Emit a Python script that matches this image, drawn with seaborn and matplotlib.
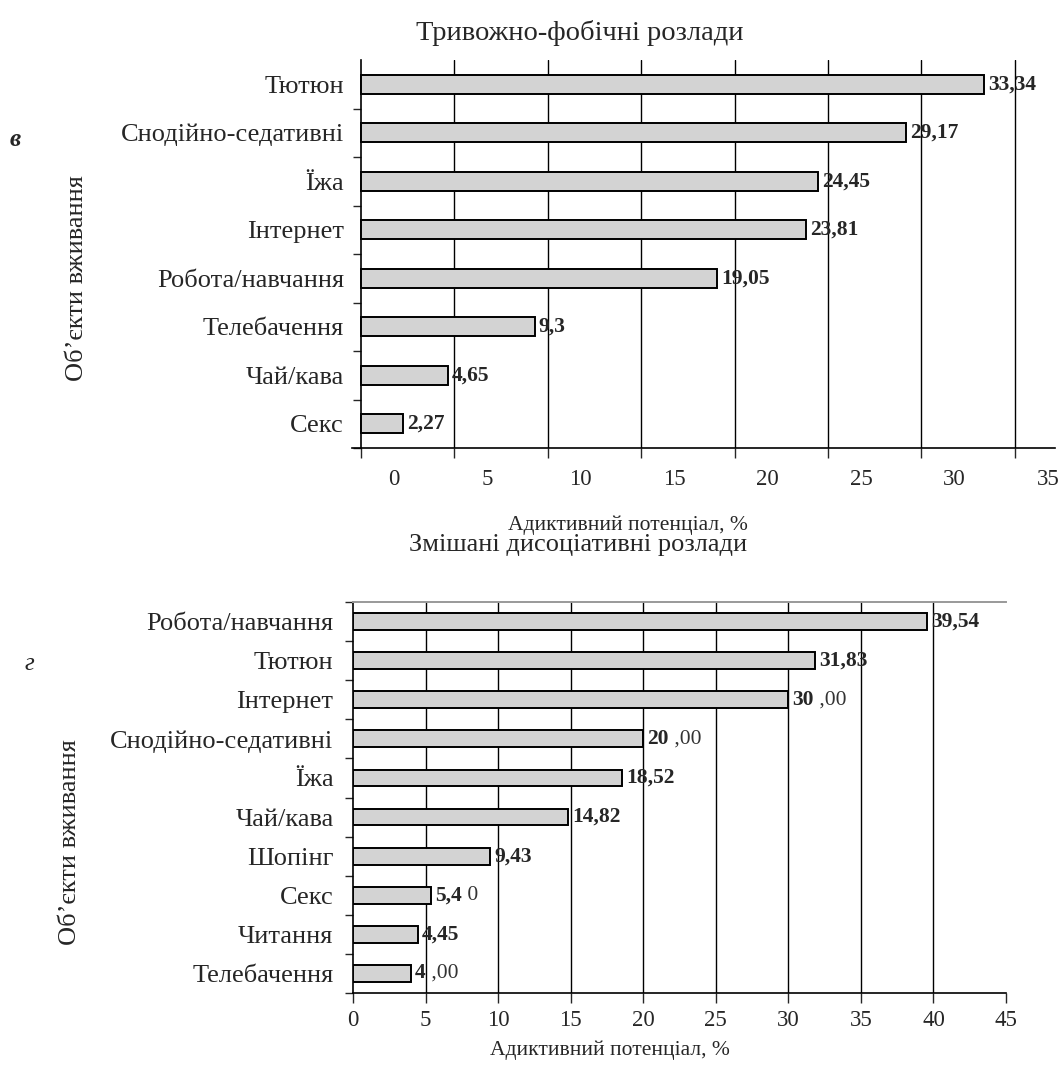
import matplotlib
matplotlib.use("Agg")
import matplotlib.pyplot as plt
import matplotlib.transforms as mtransforms
import numpy as np
import pandas as pd
import seaborn as sns

# top panel (в)
top_title = "Тривожно-фобічні розлади"
top_cats = ["Тютюн", "Снодійно-седативні", "Їжа", "Інтернет",
            "Робота/навчання", "Телебачення", "Чай/кава", "Секс"]
top_vals = [33.34, 29.17, 24.45, 23.81, 19.05, 9.3, 4.65, 2.27]
top_labels = ["33,34", "29,17", "24,45", "23,81", "19,05", "9,3", "4,65", "2,27"]
top_ticks = [0, 5, 10, 15, 20, 25, 30, 35]

# bottom panel (г)
bot_title = "Змішані дисоціативні розлади"
bot_cats = ["Робота/навчання", "Тютюн", "Інтернет", "Снодійно-седативні", "Їжа",
            "Чай/кава", "Шопінг", "Секс", "Читання", "Телебачення"]
bot_vals = [39.54, 31.83, 30.0, 20.0, 18.52, 14.82, 9.43, 5.4, 4.45, 4.0]
bot_bold = ["39,54", "31,83", "30", "20", "18,52", "14,82", "9,43", "5,4", "4,45", "4"]
bot_rest = ["", "", " ,00", " ,00", "", "", "", " 0", "", " ,00"]
bot_ticks = [0, 5, 10, 15, 20, 25, 30, 35, 40, 45]

xlabel = "Адиктивний потенціал, %"
ylabel = "Об’єкти вживання"

sns.set_style("white")
plt.rcParams["font.family"] = ["Liberation Serif", "DejaVu Serif"]

W, H = 1061, 1073
fig = plt.figure(figsize=(W / 100, H / 100), dpi=100)


def px_axes(left, top, right, bottom):
    return fig.add_axes([left / W, 1 - bottom / H, (right - left) / W, (bottom - top) / H])


def draw_panel(ax, cats, vals, bar_w, xlim, ticks, grid_ticks, top_tick=True):
    df = pd.DataFrame({"cat": cats, "val": vals})
    sns.barplot(data=df, x="val", y="cat", orient="h", order=cats, color="#d3d3d3",
                saturation=1, edgecolor="black", linewidth=1.4, width=bar_w, ax=ax)
    ax.set_xlim(*xlim)
    ax.set_ylim(len(cats) - 0.5, -0.5)
    ax.set_xlabel("")
    ax.set_ylabel("")
    for g in grid_ticks:
        ax.axvline(g, color="black", lw=1.0, zorder=0)
    ax.set_xticks(ticks)
    bounds = np.arange(len(cats) + 1) - 0.5
    if not top_tick:
        bounds = bounds[1:]
    ax.set_yticks(bounds, minor=True)
    ax.tick_params(axis="y", which="minor", length=6, width=1, direction="out", left=True)
    ax.tick_params(axis="y", which="major", length=0, labelsize=19, pad=12)
    ax.tick_params(axis="x", length=7, width=1, direction="out", bottom=True, labelsize=16.5)
    ax.spines["right"].set_visible(False)
    for s in ["left", "bottom"]:
        ax.spines[s].set_color("black")
        ax.spines[s].set_linewidth(1.2)
    for p in ax.patches:
        p.set_zorder(3)


# ---- top ----
ax1 = px_axes(352, 60, 1055, 448)
draw_panel(ax1, top_cats, top_vals, 0.39, (-0.47, 37.15), top_ticks, top_ticks[1:],
           top_tick=False)
ax1.spines["top"].set_visible(False)
ax1.spines["left"].set_position(("data", 0))
ax1.tick_params(axis="x", pad=8)
# the source figure has its x tick labels shifted right of the gridlines
shift = mtransforms.ScaledTranslation(0.33, 0, fig.dpi_scale_trans)
for lab in ax1.get_xticklabels():
    lab.set_transform(lab.get_transform() + shift)
for i, (v, t) in enumerate(zip(top_vals, top_labels)):
    ax1.annotate(t, xy=(v, i), xytext=(3, 0), textcoords="offset points",
                 va="center", ha="left", fontsize=15.5, fontweight="bold", zorder=4)

# ---- bottom ----
ax2 = px_axes(353, 602, 1006, 993)
draw_panel(ax2, bot_cats, bot_vals, 0.43, (0, 44.3), bot_ticks, bot_ticks[1:-1])
ax2.spines["top"].set_color("#999999")
ax2.spines["top"].set_linewidth(1.4)
ax2.tick_params(axis="x", pad=5)
ax2.tick_params(axis="y", which="major", pad=14)
for i, (v, b, r) in enumerate(zip(bot_vals, bot_bold, bot_rest)):
    t = ax2.annotate(b, xy=(v, i), xytext=(3, 0), textcoords="offset points",
                     va="center", ha="left", fontsize=15.5, fontweight="bold", zorder=4)
    if r:
        ax2.annotate(r, xy=(1, 0.5), xycoords=t, va="center", ha="left",
                     fontsize=15.5, color="#333333", zorder=4)

# titles, axis labels, panel letters
fig.text(580 / W, 1 - 33 / H, top_title, ha="center", va="center", fontsize=20.5)
fig.text(578 / W, 1 - 545 / H, bot_title, ha="center", va="center", fontsize=19)
fig.text(628 / W, 1 - 525 / H, xlabel, ha="center", va="center", fontsize=15.5)
fig.text(610 / W, 1 - 1050 / H, xlabel, ha="center", va="center", fontsize=15.5)
fig.text(77 / W, 1 - 278 / H, ylabel, ha="center", va="center", rotation=90, fontsize=19)
fig.text(70 / W, 1 - 842 / H, ylabel, ha="center", va="center", rotation=90, fontsize=19)
fig.text(15 / W, 1 - 140 / H, "в", ha="center", va="center", fontsize=18,
         style="italic", fontweight="bold")
fig.text(29 / W, 1 - 664 / H, "г", ha="center", va="center", fontsize=18, style="italic")

fig.savefig("out.png", dpi=100)
